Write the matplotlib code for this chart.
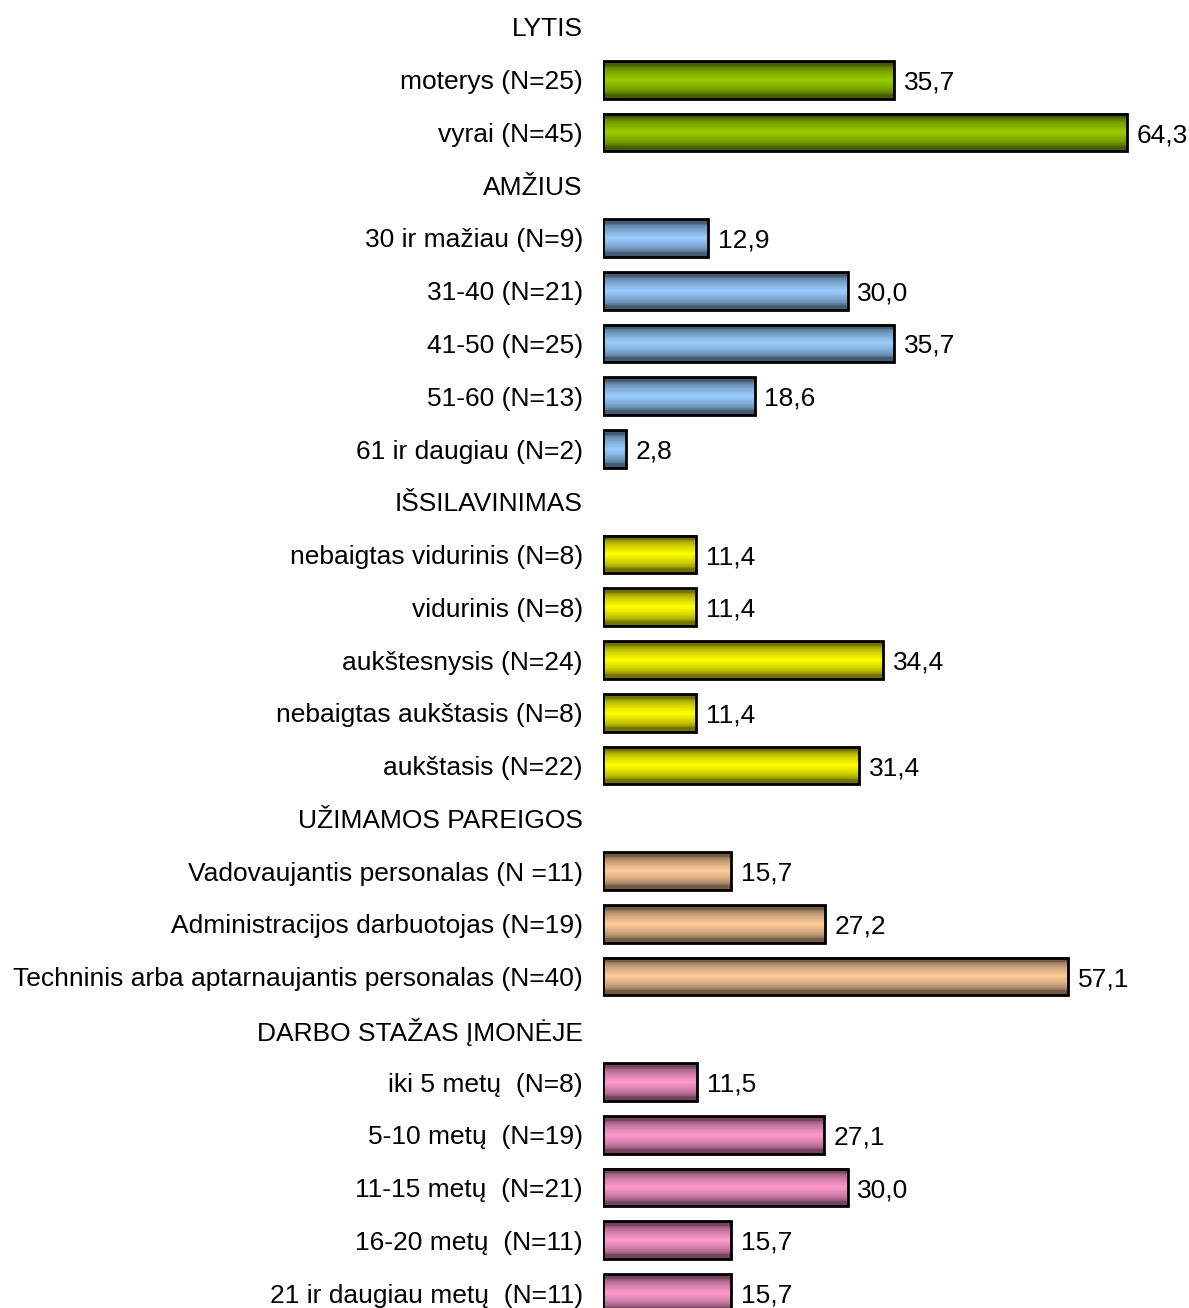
import numpy as np
import matplotlib.pyplot as plt
from matplotlib.colors import to_rgb

plt.rcParams['font.family'] = ['Liberation Sans', 'DejaVu Sans']

# groups: header, item labels, percentages, fill colour
sections = ['LYTIS', 'AMŽIUS', 'IŠSILAVINIMAS', 'UŽIMAMOS PAREIGOS', 'DARBO STAŽAS ĮMONĖJE']

lytis_labels = ['moterys (N=25)', 'vyrai (N=45)']
lytis_values = [35.7, 64.3]

amzius_labels = ['30 ir mažiau (N=9)', '31-40 (N=21)', '41-50 (N=25)',
                 '51-60 (N=13)', '61 ir daugiau (N=2)']
amzius_values = [12.9, 30.0, 35.7, 18.6, 2.8]

issilav_labels = ['nebaigtas vidurinis (N=8)', 'vidurinis (N=8)', 'aukštesnysis (N=24)',
                  'nebaigtas aukštasis (N=8)', 'aukštasis (N=22)']
issilav_values = [11.4, 11.4, 34.4, 11.4, 31.4]

pareigos_labels = ['Vadovaujantis personalas (N =11)', 'Administracijos darbuotojas (N=19)',
                   'Techninis arba aptarnaujantis personalas (N=40)']
pareigos_values = [15.7, 27.2, 57.1]

stazas_labels = ['iki 5 metų  (N=8)', '5-10 metų  (N=19)', '11-15 metų  (N=21)',
                 '16-20 metų  (N=11)', '21 ir daugiau metų  (N=11)']
stazas_values = [11.5, 27.1, 30.0, 15.7, 15.7]

colors = ['#99CC00', '#99CCFF', '#FFFF00', '#FFCC99', '#FF99CC']

groups = [(lytis_labels, lytis_values), (amzius_labels, amzius_values),
          (issilav_labels, issilav_values), (pareigos_labels, pareigos_values),
          (stazas_labels, stazas_values)]

FS = 19

fig = plt.figure(figsize=(11.89, 13.08), dpi=100)
ax = fig.add_axes([603 / 1189, 0, 1 - 603 / 1189, 1])

bar_h = 0.72
# shading profile: dark at top and bottom edges, full colour in the middle
t = np.linspace(0, 1, 64)
shade = 0.45 + 0.55 * np.clip(1 - np.abs(2 * t - 1) * 1.3, 0, 1) ** 0.5

ticks, ticklabels = [], []
row = 0
for header, (labels, values), col in zip(sections, groups, colors):
    ticks.append(row)
    ticklabels.append(header)
    row += 1
    rgb = np.array(to_rgb(col))
    grad = shade[:, None, None] * rgb[None, None, :]
    for lab, v in zip(labels, values):
        ticks.append(row)
        ticklabels.append(lab)
        ax.imshow(grad, extent=[0, v, row + bar_h / 2, row - bar_h / 2],
                  aspect='auto', interpolation='bilinear', zorder=2)
        ax.barh(row, v, height=bar_h, facecolor='none', edgecolor='black',
                linewidth=2, zorder=3)
        ax.text(v + 1.2, row, f'{v:.1f}'.replace('.', ','), va='center_baseline',
                ha='left', fontsize=FS, color='black')
        row += 1

ax.set_xlim(0, (1189 - 603) / 8.15)
ax.set_ylim(24 + 15 / 52.75, -27 / 52.75)
ax.set_yticks(ticks)
ax.set_yticklabels(ticklabels, fontsize=FS, va='center_baseline')
ax.tick_params(axis='y', length=0, pad=14.5)
ax.set_xticks([])
for s in ax.spines.values():
    s.set_visible(False)
ax.patch.set_alpha(0)

fig.savefig('out.png', dpi=100)
